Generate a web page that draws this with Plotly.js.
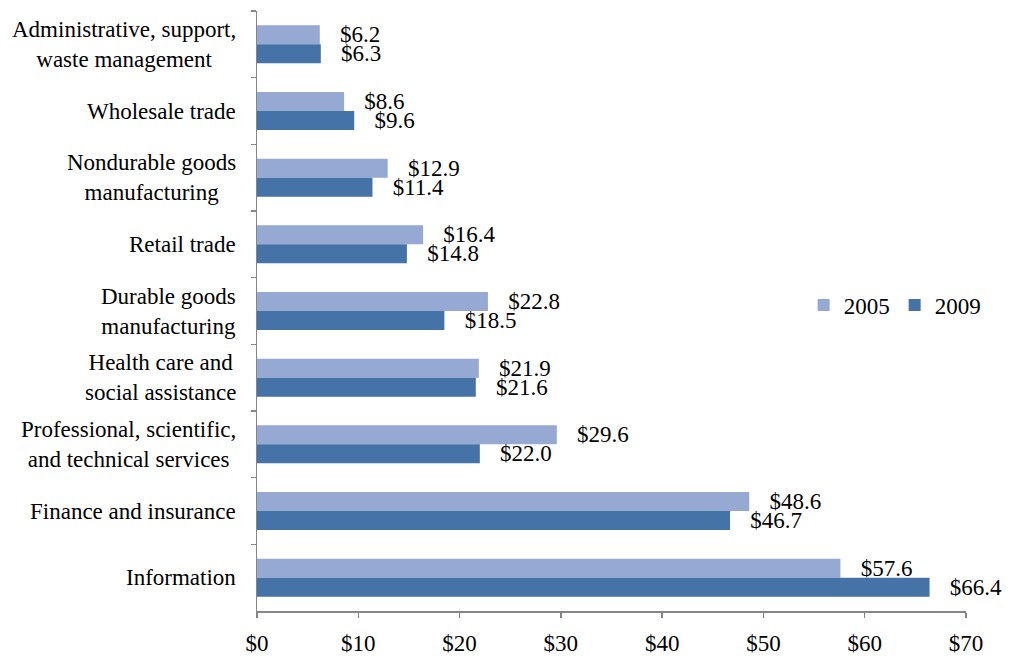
<!DOCTYPE html>
<html>
<head>
<meta charset="utf-8">
<script src="https://cdn.plot.ly/plotly-3.0.1.min.js"></script>
<style>html,body{margin:0;padding:0;background:#fff;}#chart{width:1014px;height:659px;}</style>
</head>
<body>
<div id="chart"></div>
<script>
const categories = [
  "Administrative, support,<br>waste management",
  "Wholesale trade",
  "Nondurable goods<br>manufacturing",
  "Retail trade",
  "Durable goods<br>manufacturing",
  "Health care and<br>social assistance",
  "Professional, scientific,<br>and technical services",
  "Finance and insurance",
  "Information"
];
const values2005 = [6.2, 8.6, 12.9, 16.4, 22.8, 21.9, 29.6, 48.6, 57.6];
const values2009 = [6.3, 9.6, 11.4, 14.8, 18.5, 21.6, 22.0, 46.7, 66.4];
const seriesNames = ["2005", "2009"];
const xTicks = [0, 10, 20, 30, 40, 50, 60, 70];
const xTickText = ["$0", "$10", "$20", "$30", "$40", "$50", "$60", "$70"];

const FONT = "Liberation Serif";
const FS = 23;
const pad = "\u00a0\u00a0\u00a0";

function trace(name, vals, color) {
  return {
    type: "bar", orientation: "h", name: name,
    x: vals, y: categories,
    marker: {color: color, line: {width: 0}},
    text: vals.map(v => pad + "$" + v.toFixed(1)),
    textposition: "outside",
    constraintext: "none",
    cliponaxis: false,
    textfont: {family: FONT, size: FS, color: "#000"},
    hoverinfo: "x+name"
  };
}

const data = [
  trace(seriesNames[0], values2005, "#95a9d2"),
  trace(seriesNames[1], values2009, "#4572a7")
];

const annotations = categories.map(c => ({
  x: 0, xref: "paper", y: c, yref: "y",
  text: c, showarrow: false, xanchor: "right", yanchor: "middle",
  align: "center", xshift: -19,
  font: {family: FONT, size: FS, color: "#000"}
}));

const layout = {
  width: 1014, height: 659,
  margin: {l: 257, r: 48, t: 11, b: 48},
  paper_bgcolor: "#fff", plot_bgcolor: "#fff",
  barmode: "group", bargap: 0.43, bargroupgap: 0,
  font: {family: FONT, size: FS, color: "#000"},
  xaxis: {
    range: [0, 70], tickmode: "array", tickvals: xTicks, ticktext: xTickText,
    showgrid: false, zeroline: false,
    showline: true, linecolor: "#868686", linewidth: 1.5,
    ticks: "outside", ticklen: 5, tickcolor: "#868686", tickwidth: 1.5,
    ticklabelstandoff: 6,
    tickfont: {family: FONT, size: FS, color: "#000"}
  },
  yaxis: {
    type: "category", autorange: "reversed",
    showticklabels: false, showgrid: false, zeroline: false,
    showline: true, linecolor: "#868686", linewidth: 1.5,
    ticks: "outside", tickson: "boundaries", ticklen: 5,
    tickcolor: "#868686", tickwidth: 1.5
  },
  legend: {
    orientation: "h", x: 0.771, xanchor: "left", y: 0.51, yanchor: "middle",
    font: {family: FONT, size: FS, color: "#000"},
    bgcolor: "rgba(0,0,0,0)", itemwidth: 30, traceorder: "normal"
  },
  annotations: annotations,
  showlegend: true
};

Plotly.newPlot("chart", data, layout, {displayModeBar: false, staticPlot: true});
</script>
</body>
</html>
